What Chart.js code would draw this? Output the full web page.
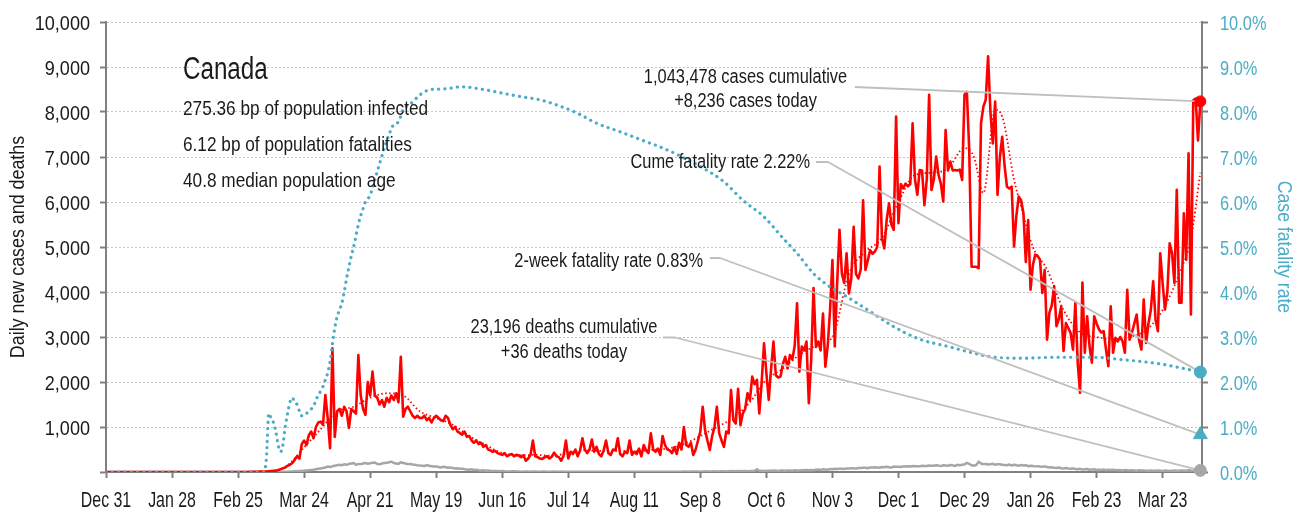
<!DOCTYPE html>
<html>
<head>
<meta charset="utf-8">
<title>Canada</title>
<script src="https://cdn.jsdelivr.net/npm/chart.js@4"></script>
<style>
  html, body { margin: 0; padding: 0; background: #fff; }
  canvas { display: block; }
</style>
</head>
<body>
<canvas id="chart" width="1304" height="512"></canvas>
<script>
// day 0 = Dec 31 2019, one value per day
const xTickLabels = ['Dec 31','Jan 28','Feb 25','Mar 24','Apr 21','May 19','Jun 16','Jul 14','Aug 11','Sep 8','Oct 6','Nov 3','Dec 1','Dec 29','Jan 26','Feb 23','Mar 23'];
const tickStepDays = 28;

const dailyCases = [
  0,0,0,0,0,0,0,0,0,0,0,0,0,0,0,0,0,0,0,0,
  0,0,0,0,0,0,0,0,0,0,0,0,0,0,0,0,0,0,0,0,
  0,0,0,0,0,0,0,0,0,0,0,0,0,0,0,0,0,0,0,0,
  0,
  4,3,6,4,8,12,9,10,15,20,25,30,
  45,60,80,100,140,160,200,270,350,300,620,700,
  600,820,900,750,1000,1100,1120,1050,
  1710,1200,530,2750,780,1350,1400,
  1250,1450,1350,980,1400,1350,1300,2600,1700,1400,
  1270,2000,1700,2230,1700,1650,1500,1600,1450,1650,
  1550,1700,1600,1750,1550,2560,1230,1400,1450,1350,
  1250,1200,1250,1200,1200,1250,1150,1200,1100,1200,
  1250,1200,1150,1130,1250,1200,1050,950,1000,900,
  870,830,900,780,800,700,650,700,620,650,
  560,600,500,480,450,470,420,400,380,420,
  350,380,400,350,380,370,330,370,250,300,
  380,700,350,330,300,290,330,350,300,340,
  430,350,330,250,360,700,300,450,400,500,
  350,480,750,500,420,500,720,450,560,400,
  350,480,700,420,380,500,480,750,400,350,
  450,420,700,380,450,400,520,350,600,480,
  420,860,500,450,520,380,800,600,500,480,
  420,550,400,650,500,1000,600,560,650,380,
  500,700,900,1450,930,700,490,800,1000,1450,
  860,700,560,900,860,1820,1150,1080,1850,1040,
  1300,1400,1750,1600,2120,1950,2050,1300,2000,2860,
  2200,1600,2300,2900,2150,2100,2120,2400,2560,2300,
  2600,2500,2800,3750,2230,2790,2700,2900,1530,2500,
  4090,2780,2900,2700,3520,2340,2800,3600,4710,2790,
  4200,5380,4410,4200,4860,3970,4300,5450,4400,4300,
  4500,6040,4490,4700,4930,4850,4900,5000,6790,5200,
  4970,5600,5970,5500,5380,7900,5530,6400,6300,6410,
  6350,6400,7750,6500,6160,6710,6700,5930,6500,8380,
  6270,6500,7010,6600,6400,6010,7600,6700,6900,6700,
  6710,6700,6720,6490,8380,8450,7160,4560,4560,4560,
  4530,7750,8120,8270,9240,8000,7300,8230,6160,7000,
  7450,6800,6340,6300,6340,5010,5700,6120,6040,5750,
  4670,5600,4050,4600,4830,4800,4720,3980,4490,2940,
  3540,3700,4130,3240,3400,3680,2690,3310,3200,3090,
  2720,3760,2430,1760,4210,2650,3460,2800,2430,3460,
  3300,3170,3100,3130,2720,2350,3680,2650,2980,2900,
  3000,2910,2650,4050,2940,3100,3300,3500,2940,2720,
  3830,2870,3300,3600,4240,3390,3130,4860,4200,3610,
  4000,5080,4860,4200,6270,3760,3760,5750,4720,7080,
  3500,8260,8300,7370,8236
];

const dailyDeaths = [
  0,0,0,0,0,0,0,0,0,0,0,0,0,0,0,0,0,0,0,0,
  0,0,0,0,0,0,0,0,0,0,0,0,0,0,0,0,0,0,0,0,
  0,0,0,0,0,0,0,0,0,0,0,0,0,0,0,0,0,0,0,0,
  0,0,0,0,0,0,0,0,0,
  1,1,2,1,3,5,4,6,8,10,12,15,18,22,25,30,
  35,40,45,50,60,70,80,90,100,120,110,130,140,150,160,
  150,170,160,180,190,200,160,180,175,190,200,185,195,205,210,180,170,190,200,205,215,230,200,190,180,215,200,
  190,175,180,165,160,150,145,140,135,150,140,130,120,125,110,100,115,105,95,100,90,80,85,70,75,60,55,50,60,45,50,40,35,40,
  30,35,25,20,25,22,18,20,15,12,10,15,18,12,10,8,9,12,10,8,
  10,12,8,6,9,11,7,5,8,10,6,7,9,5,6,8,4,6,5,7,
  5,6,4,7,5,3,6,4,5,8,6,4,7,5,6,3,5,7,4,6,8,5,4,6,5,7,6,4,5,8,6,5,4,7,6,5,8,6,4,7,
  6,8,7,5,9,10,8,12,9,11,10,8,12,14,11,9,13,15,12,10,14,16,13,17,20,15,18,22,17,21,
  23,19,25,22,28,60,25,27,24,28,30,26,32,28,25,31,34,29,36,33,30,38,35,32,40,37,42,39,44,41,
  50,55,45,60,58,52,65,62,70,68,75,72,65,80,78,85,82,75,90,88,95,92,85,100,98,105,100,95,110,108,115,105,100,120,115,118,110,125,120,130,
  120,135,128,130,125,140,135,132,145,140,138,150,142,130,150,145,140,155,148,135,160,150,160,170,205,180,150,140,155,230,190,175,180,165,170,185,160,175,170,160,
  155,150,165,145,160,150,140,155,145,150,130,140,135,125,130,120,115,125,110,100,105,95,90,100,85,80,90,75,70,80,65,60,70,55,60,65,50,55,60,45,
  50,45,55,40,48,42,50,38,45,40,35,42,38,33,40,36,30,38,32,35,30,28,34,30,27,32,29,25,31,28,24,30,33,26,29,35,32,28,38,33,30,36,32,36
];

// smoothed cases (red dotted), read at these days
const avgDays  = [0,63,70,77,84,91,98,105,112,119,126,133,140,147,154,161,168,175,182,189,196,203,210,217,224,231,238,245,252,259,266,273,280,287,294,301,308,315,322,329,336,343,350,357,364,368,372,377,380,385,388,393,399,406,413,420,427,434,441,448,455,460,464];
const avgCases = [0,0,15,150,550,950,1350,1450,1650,1750,1700,1350,1200,1050,800,600,420,370,380,360,420,480,470,470,460,490,520,620,800,1000,1200,1550,2050,2300,2600,2800,3000,4400,4900,5200,6000,6600,6650,6750,7200,7000,6200,8050,7900,6500,5900,5000,4500,3600,3100,3000,2950,3000,3150,3600,4400,5200,6650];

// case fatality rate in %
const cfrDays = [0,67,68,69,70,71,72,73,74,75,76,77,78,79,80,81,82,83,84,85,86,87,88,89,90,91,92,93,94,95,96,97,98,99,100,101,102,103,104,105,106,107,108,109,110,112,114,116,118,120,122,124,126,128,130,132,135,138,143,151,159,167,176,184,193,200,208,218,227,236,244,252,262,270,279,287,293,300,306,314,323,334,345,357,368,375,389,403,418,432,446,457,464];
const cfrPct  = [0,0,0.3,1.3,1.2,1.1,0.9,0.6,0.45,0.6,1.0,1.3,1.55,1.65,1.55,1.5,1.35,1.25,1.25,1.3,1.35,1.4,1.45,1.6,1.7,1.8,1.9,2.05,2.2,2.45,2.85,3.2,3.45,3.6,3.75,4.0,4.3,4.55,4.8,5.0,5.25,5.5,5.7,5.85,6.0,6.15,6.5,6.85,7.2,7.5,7.72,7.78,8.05,8.15,8.22,8.33,8.45,8.5,8.51,8.56,8.51,8.43,8.34,8.27,8.12,7.97,7.75,7.56,7.38,7.2,7.01,6.79,6.45,6.04,5.67,5.2,4.86,4.41,4.15,3.9,3.6,3.23,2.95,2.79,2.64,2.56,2.53,2.55,2.55,2.49,2.41,2.3,2.22];
const twoWeekCfr = 0.83;

const infoLines = ['275.36 bp of population infected', '6.12 bp of population fatalities', '40.8 median population age'];
const casesNote = ['1,043,478 cases cumulative', '+8,236 cases today'];
const deathsNote = ['23,196 deaths cumulative', '+36 deaths today'];
const cumeNote = 'Cume fatality rate 2.22%';
const twoWeekNote = '2-week fatality rate 0.83%';

const RED = '#ff0000', TEAL = '#4bacc6', GREY = '#a6a6a6', AXIS = '#808080', INK = '#1a1a1a';
const FONT = '"Liberation Sans", Arial, sans-serif';

const lastDay = dailyCases.length - 1;
const lastCases = dailyCases[lastDay];
const lastDeaths = dailyDeaths[lastDay];
const cumeCfr = cfrPct[cfrPct.length - 1];

const pts = (xs, ys) => ys.map((v, i) => ({ x: xs ? xs[i] : i, y: v }));
const fmtCases = v => v === 0 ? '' : v.toLocaleString('en-US');
const fmtPct = v => v.toFixed(1) + '%';

// condensed text: Liberation Sans squeezed horizontally
function say(ctx, text, x, y, o) {
  ctx.save();
  ctx.translate(x, y);
  if (o.rot) ctx.rotate(o.rot);
  ctx.scale(o.sx || 0.82, 1);
  ctx.font = (o.size || 20) + 'px ' + FONT;
  ctx.fillStyle = o.color || INK;
  ctx.textAlign = o.align || 'left';
  ctx.textBaseline = o.base || 'alphabetic';
  ctx.fillText(text, 0, 0);
  ctx.restore();
}

// leader lines: start points are text positions, end is the marker
const leaders = [
  { from: [[855, 87]], axis: 'y', value: lastCases },
  { from: [[816, 162], [828, 162]], axis: 'y2', value: cumeCfr },
  { from: [[710, 258], [720, 258]], axis: 'y2', value: twoWeekCfr },
  { from: [[663, 337.5], [675, 337.5]], axis: 'y', value: lastDeaths }
];

let leadersDone = false;
const notes = {
  id: 'notes',
  beforeDatasetsDraw() { leadersDone = false; },
  beforeDatasetDraw(chart, args) {
    if (leadersDone || !chart.data.datasets[args.index].isMarker) return;
    leadersDone = true;
    const { ctx, scales } = chart;
    const xe = scales.x.getPixelForValue(lastDay);
    ctx.save();
    ctx.strokeStyle = '#bfbfbf';
    ctx.lineWidth = 1.8;
    ctx.lineJoin = 'round';
    leaders.forEach(l => {
      ctx.beginPath();
      l.from.forEach((p, i) => i ? ctx.lineTo(p[0], p[1]) : ctx.moveTo(p[0], p[1]));
      ctx.lineTo(xe, scales[l.axis].getPixelForValue(l.value));
      ctx.stroke();
    });
    ctx.restore();
  },
  afterDraw(chart) {
    const { ctx, scales: { x, y, y2 }, chartArea } = chart;
    // axis labels
    y.ticks.forEach(t => {
      if (t.value === 0) return;
      say(ctx, fmtCases(t.value), 90, y.getPixelForValue(t.value) + 7.5, { size: 21, sx: 0.86, align: 'right' });
    });
    y2.ticks.forEach(t => {
      say(ctx, fmtPct(t.value), 1220, y2.getPixelForValue(t.value) + 7.5, { size: 21, sx: 0.78, color: TEAL });
    });
    x.ticks.forEach(t => {
      say(ctx, xTickLabels[Math.round(t.value / tickStepDays)] || '', x.getPixelForValue(t.value), 506.5, { size: 21.5, sx: 0.74, align: 'center' });
    });
    const midY = (chartArea.top + chartArea.bottom) / 2;
    say(ctx, 'Daily new cases and deaths', 18, midY, { size: 21, sx: 0.85, align: 'center', base: 'middle', rot: -Math.PI / 2 });
    say(ctx, 'Case fatality rate', 1284, midY, { size: 21, sx: 0.84, align: 'center', base: 'middle', rot: Math.PI / 2, color: TEAL });
    // notes
    say(ctx, 'Canada', 183, 79, { size: 31, sx: 0.78 });
    infoLines.forEach((t, i) => say(ctx, t, 183, 115 + i * 36, { size: 21, sx: 0.82 }));
    say(ctx, casesNote[0], 745.5, 82.5, { align: 'center' });
    say(ctx, casesNote[1], 745.5, 107, { align: 'center' });
    say(ctx, deathsNote[0], 564, 333, { align: 'center' });
    say(ctx, deathsNote[1], 564, 358, { align: 'center' });
    say(ctx, cumeNote, 810, 168, { align: 'right' });
    say(ctx, twoWeekNote, 703, 266.5, { align: 'right' });
  }
};

const marker = (label, value, axis, color, style, r) => ({
  label, isMarker: true, order: 0, yAxisID: axis, showLine: false, clip: false,
  data: [{ x: lastDay, y: value }],
  pointStyle: style, pointRadius: r, pointBackgroundColor: color, pointBorderColor: color, pointBorderWidth: 1
});

new Chart(document.getElementById('chart'), {
  type: 'line',
  data: {
    datasets: [
      marker('cases today', lastCases, 'y', RED, 'circle', 5.5),
      marker('cume cfr', cumeCfr, 'y2', TEAL, 'circle', 6),
      marker('2-week cfr', twoWeekCfr, 'y2', TEAL, 'triangle', 8),
      marker('deaths today', lastDeaths, 'y', GREY, 'circle', 6),
      {
        label: 'Case fatality rate', order: 1, yAxisID: 'y2',
        data: pts(cfrDays, cfrPct),
        borderColor: TEAL, borderWidth: 3.2, borderDash: [0.1, 6.2], borderCapStyle: 'round',
        cubicInterpolationMode: 'monotone', pointRadius: 0
      },
      {
        label: 'Cases average', order: 2, yAxisID: 'y',
        data: pts(avgDays, avgCases),
        borderColor: RED, borderWidth: 1.8, borderDash: [1.5, 2.5],
        cubicInterpolationMode: 'monotone', pointRadius: 0
      },
      {
        label: 'Daily new cases', order: 3, yAxisID: 'y',
        data: pts(null, dailyCases),
        borderColor: RED, borderWidth: 2.6, borderJoinStyle: 'round', tension: 0, pointRadius: 0
      },
      {
        label: 'Daily new deaths', order: 4, yAxisID: 'y',
        data: pts(null, dailyDeaths),
        borderColor: GREY, borderWidth: 2.5, borderJoinStyle: 'round', tension: 0, pointRadius: 0
      }
    ]
  },
  options: {
    responsive: false,
    animation: false,
    devicePixelRatio: 1,
    layout: { padding: { top: 22, left: 0, right: 0, bottom: 0 } },
    plugins: { legend: { display: false }, tooltip: { enabled: false } },
    scales: {
      x: {
        type: 'linear', min: 0, max: 464.7,
        afterFit(s) { s.height = 40; },
        ticks: { display: false, stepSize: tickStepDays, includeBounds: false, autoSkip: false, maxRotation: 0 },
        grid: { drawOnChartArea: false, drawTicks: true, tickLength: 6, tickColor: AXIS, tickWidth: 2 },
        border: { display: true, color: AXIS, width: 2 }
      },
      y: {
        position: 'left', min: 0, max: 10000,
        afterFit(s) { s.width = 106; },
        ticks: { display: false, stepSize: 1000 },
        grid: { color: '#c4c4c4', lineWidth: 1, tickLength: 6, tickColor: AXIS, tickWidth: 2, tickBorderDash: [] },
        border: { display: true, color: AXIS, width: 2, dash: [2, 2] }
      },
      y2: {
        position: 'right', min: 0, max: 10,
        afterFit(s) { s.width = 102; },
        ticks: { display: false, stepSize: 1 },
        grid: { drawOnChartArea: false, tickLength: 6, tickColor: AXIS, tickWidth: 2 },
        border: { display: true, color: AXIS, width: 2 }
      }
    }
  },
  plugins: [notes]
});
</script>
</body>
</html>
